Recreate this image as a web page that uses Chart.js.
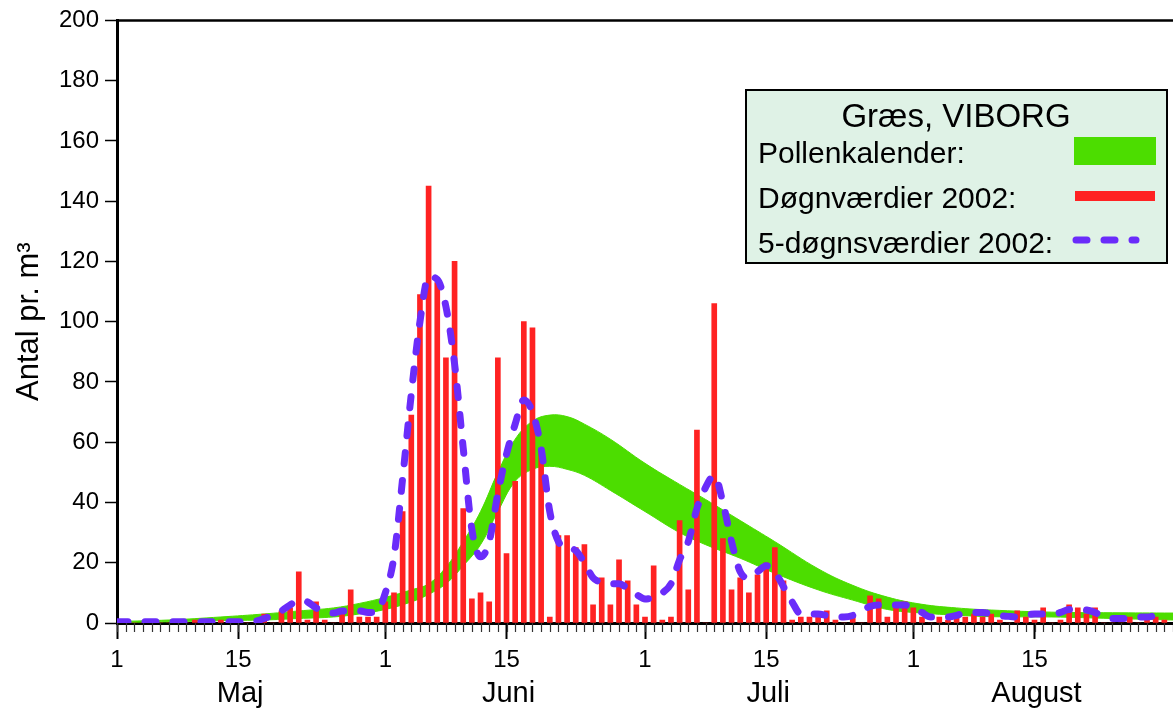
<!DOCTYPE html>
<html>
<head>
<meta charset="utf-8">
<script src="https://cdn.jsdelivr.net/npm/chart.js@4"></script>
<style>
  body { margin: 0; overflow: hidden; background: #fff; }
  #wrap { width: 1173px; height: 711px; }
</style>
</head>
<body>
<div id="wrap"><canvas id="moncanvas"></canvas></div>
<script>
// day 0 = 1 maj, day 122 = 31 august
const tickDays = [0, 14, 31, 45, 61, 75, 92, 106];
const tickLabels = ['1', '15', '1', '15', '1', '15', '1', '15'];
const monthDays = [14, 45, 75, 106];
const monthNames = ['Maj', 'Juni', 'Juli', 'August'];

// døgnværdier 2002, one per day from 1 maj
const dogn = [
  0, 0, 0, 0, 0, 0, 0, 0, 0, 1,
  0, 0, 1, 0, 0, 0, 0, 3, 0, 4,
  5, 17, 1, 7, 1, 0, 4, 11, 2, 2,
  2, 7, 10, 37, 69, 109, 145, 113, 88, 120,
  38, 8, 10, 7, 88, 23, 47, 100, 98, 58,
  2, 29, 29, 25, 26, 6, 15, 6, 21, 14,
  6, 2, 19, 1, 2, 34, 11, 64, 0, 106,
  28, 11, 15, 10, 16, 20, 25, 14, 1, 2,
  2, 2, 4, 1, 0, 2, 0, 9, 8, 2,
  5, 7, 5, 2, 0, 2, 1, 2, 2, 3,
  2, 3, 1, 0, 4, 2, 1, 5, 0, 1,
  6, 5, 3, 5, 0, 0, 0, 2, 0, 2,
  2, 1
];

// 5-døgnsværdier 2002
const femDogn = [
  0.4, 0.4, 0.4, 0.4, 0.4, 0.4, 0.4, 0.4, 0.4, 0.4,
  0.4, 0.4, 0.4, 0.4, 0.4, 0.4, 0.6, 1.5, 2.5, 4,
  6, 7.5, 7, 5, 4, 3.3, 4, 4, 4, 3.5,
  3.8, 10, 22, 48, 76, 100, 115, 114, 105, 86,
  58, 31, 22, 27, 43, 56, 66, 74, 70, 58,
  37, 27, 25, 24, 20, 15, 13.5, 13, 13, 11.5,
  9.5, 8, 8.5, 10, 13, 21, 27, 38, 45, 49,
  40, 27, 17, 15, 17, 19, 17, 12, 7, 3,
  3, 3, 2.5, 2, 2, 2.5, 4, 5.5, 6, 6,
  6, 6, 5, 3.5, 2, 2, 2, 2.5, 3.5, 3.5,
  3.5, 3, 2.5, 2.2, 2, 2.5, 3, 3, 3, 3.5,
  4.5, 4.5, 4.3, 3.5, 2, 1.5, 1.5, 1.5, 2, 2,
  2.5, 3
];

// pollenkalender (band)
const kalDays = [0, 6, 12, 17, 21, 25, 28, 31, 34, 36, 38, 40, 42, 44, 46, 48, 50, 52, 54, 57, 61, 65, 68, 72, 76, 81, 85, 89, 93, 97, 101, 108, 115, 122];
const kalHoj = [0.5, 1, 2, 3, 4, 5, 6.5, 8.5, 11, 13, 18.5, 27, 37, 50, 61, 67, 69, 68.5, 66, 61, 53, 46, 41, 34, 27, 18, 12.5, 8.6, 6.2, 5, 4.3, 3.6, 3.4, 3.3];
const kalLav = [0.2, 0.4, 0.8, 1, 1.5, 2, 3, 4.5, 7, 9.5, 13, 19, 26, 37, 47, 51, 52, 51, 49, 44, 37, 30, 26, 21.5, 16.5, 11, 7.6, 4.5, 3.3, 2.6, 2.1, 2, 1.5, 1];

const ROD = '#ff2222';
const GRON = '#4cdd00';
const LILLA = '#6a2cfa';
const FONT = "'Liberation Sans', Arial, sans-serif";
Chart.defaults.font.family = FONT;
Chart.defaults.color = '#000';

const pynt = {
  id: 'pynt',
  afterDraw(chart) {
    const ctx = chart.ctx;
    const a = chart.chartArea;
    const xs = chart.scales.x;
    ctx.save();
    // top frame
    ctx.strokeStyle = '#000';
    ctx.lineWidth = 2.5;
    ctx.beginPath();
    ctx.moveTo(a.left, a.top);
    ctx.lineTo(a.right, a.top);
    ctx.stroke();
    // small day ticks
    ctx.lineWidth = 1.2;
    ctx.strokeStyle = '#333';
    for (let d = 0; d <= 122; d++) {
      const px = Math.round(xs.getPixelForValue(d)) + 0.5;
      ctx.beginPath();
      ctx.moveTo(px, a.bottom);
      ctx.lineTo(px, a.bottom + 9);
      ctx.stroke();
    }
    // month names
    ctx.fillStyle = '#000';
    ctx.font = '29px ' + FONT;
    ctx.textAlign = 'center';
    ctx.textBaseline = 'alphabetic';
    for (let i = 0; i < monthNames.length; i++) {
      ctx.fillText(monthNames[i], xs.getPixelForValue(monthDays[i]) + 2, 702);
    }
    // legend box
    ctx.fillStyle = '#dff2e6';
    ctx.fillRect(746, 90, 421, 173);
    ctx.strokeStyle = '#000';
    ctx.lineWidth = 2;
    ctx.strokeRect(746, 90, 421, 173);
    ctx.fillStyle = '#000';
    ctx.font = '33px ' + FONT;
    ctx.textAlign = 'center';
    ctx.fillText('Græs, VIBORG', 956, 127);
    ctx.font = '30px ' + FONT;
    ctx.textAlign = 'left';
    ctx.fillText('Pollenkalender:', 758, 163);
    ctx.fillText('Døgnværdier 2002:', 758, 208);
    ctx.fillText('5-døgnsværdier 2002:', 758, 253);
    ctx.fillStyle = GRON;
    ctx.fillRect(1074, 137, 82, 28);
    ctx.fillStyle = ROD;
    ctx.fillRect(1075, 191, 80, 10);
    ctx.strokeStyle = LILLA;
    ctx.lineWidth = 7;
    ctx.lineCap = 'round';
    ctx.setLineDash([11, 17]);
    ctx.beginPath();
    ctx.moveTo(1076, 240);
    ctx.lineTo(1136, 240);
    ctx.stroke();
    ctx.restore();
  }
};

const config = {
  type: 'bar',
  data: {
    datasets: [
      {
        type: 'line',
        label: '5-døgnsværdier 2002',
        data: femDogn.map((v, i) => ({ x: i, y: v })),
        borderColor: LILLA,
        borderWidth: 7,
        borderDash: [11, 17],
        borderCapStyle: 'round',
        cubicInterpolationMode: 'monotone',
        pointRadius: 0,
        fill: false,
        order: 0
      },
      {
        type: 'bar',
        label: 'Døgnværdier 2002',
        data: dogn.map((v, i) => ({ x: i, y: v })),
        backgroundColor: ROD,
        barThickness: 5,
        order: 1
      },
      {
        type: 'line',
        label: 'Pollenkalender',
        data: kalDays.map((d, i) => ({ x: d, y: kalHoj[i] })),
        borderColor: GRON,
        borderWidth: 1,
        backgroundColor: GRON,
        tension: 0.4,
        pointRadius: 0,
        fill: '+1',
        order: 2
      },
      {
        type: 'line',
        label: 'lav',
        data: kalDays.map((d, i) => ({ x: d, y: kalLav[i] })),
        borderColor: GRON,
        borderWidth: 1,
        tension: 0.4,
        pointRadius: 0,
        fill: false,
        order: 3
      }
    ]
  },
  options: {
    responsive: true,
    maintainAspectRatio: false,
    animation: false,
    layout: { padding: { top: 18, right: 0, left: 0, bottom: 0 } },
    plugins: { legend: { display: false }, tooltip: { enabled: false } },
    scales: {
      x: {
        type: 'linear',
        min: 0,
        max: 122,
        offset: false,
        afterBuildTicks: s => { s.ticks = tickDays.map(v => ({ value: v })); },
        afterFit: s => { s.height = 88; },
        ticks: {
          autoSkip: false,
          maxRotation: 0,
          padding: 7,
          font: { size: 24 },
          color: '#000',
          callback: v => { const k = tickDays.indexOf(v); return k < 0 ? '' : tickLabels[k]; }
        },
        grid: { offset: false, drawOnChartArea: false, tickLength: 16, tickColor: '#000', tickWidth: 2 },
        border: { color: '#000', width: 3 }
      },
      y: {
        min: 0,
        max: 200,
        afterFit: s => { s.width = 117; },
        ticks: { stepSize: 20, padding: 6, font: { size: 24 }, color: '#000' },
        grid: { drawOnChartArea: false, tickLength: 12, tickColor: '#000', tickWidth: 1.5 },
        border: { color: '#000', width: 3 },
        title: {
          display: true,
          text: 'Antal pr. m³',
          font: { size: 31 },
          color: '#000',
          padding: { top: 11, bottom: 0 }
        }
      }
    }
  },
  plugins: [pynt]
};

const myChart = new Chart(document.querySelector('#moncanvas'), config);
</script>
</body>
</html>
